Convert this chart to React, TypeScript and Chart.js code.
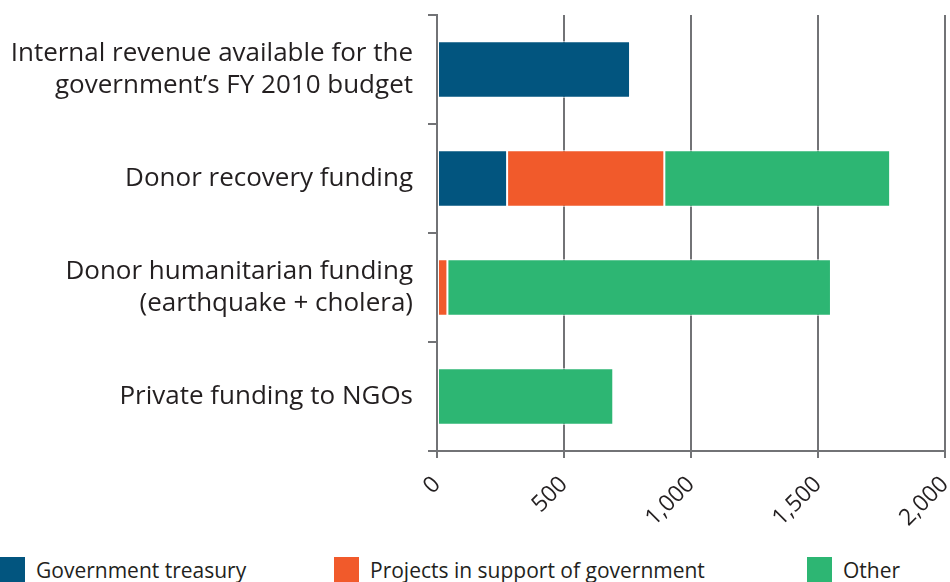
import React, { useEffect, useRef } from "react";
import { Chart, registerables } from "chart.js";

Chart.register(...registerables);

const categories: (string | string[])[] = [
  ["Internal revenue available for the", "government\u2019s FY 2010 budget"],
  "Donor recovery funding",
  ["Donor humanitarian funding", "(earthquake + cholera)"],
  "Private funding to NGOs",
];

const seriesNames = ["Government treasury", "Projects in support of government", "Other"];
const seriesColors = ["#02557f", "#f15a2b", "#2db673"];

const governmentTreasury = [760, 276, 0, 0];
const projectsInSupport = [0, 619, 41, 0];
const otherFunding = [0, 889, 1510, 694];

const xTicks = [0, 500, 1000, 1500, 2000];

const FONT = "'Open Sans', 'Noto Sans', sans-serif";
const GRAY = "#727376";
const TEXT = "#231f20";

export default function App() {
  const ref = useRef<HTMLCanvasElement | null>(null);

  useEffect(() => {
    if (!ref.current) return;
    const series = [governmentTreasury, projectsInSupport, otherFunding];
    const chart = new Chart(ref.current, {
      type: "bar",
      data: {
        labels: categories,
        datasets: series.map((d, i) => ({
          label: seriesNames[i],
          data: d,
          backgroundColor: seriesColors[i],
          borderColor: "#ffffff",
          borderWidth: 1,
          borderSkipped: false,
          barPercentage: 0.52,
          categoryPercentage: 1,
        })),
      },
      options: {
        indexAxis: "y",
        animation: false,
        responsive: false,
        maintainAspectRatio: false,
        layout: { padding: { top: 15, right: 5, left: 0, bottom: 0 } },
        plugins: {
          legend: { display: false },
          tooltip: { enabled: false },
        },
        scales: {
          x: {
            stacked: true,
            min: xTicks[0],
            max: xTicks[xTicks.length - 1],
            afterBuildTicks: (scale: any) => {
              scale.ticks = xTicks.map((v) => ({ value: v }));
            },
            afterFit: (scale: any) => {
              scale.height = 89;
              scale.paddingRight = 0;
              scale.paddingLeft = 0;
            },
            grid: {
              color: GRAY,
              lineWidth: 2,
              tickLength: 7,
              drawTicks: true,
            },
            border: { display: true, color: GRAY, width: 2 },
            ticks: {
              minRotation: 45,
              maxRotation: 45,
              color: TEXT,
              padding: 13,
              font: { family: FONT, size: 23 },
              callback: (v: any) => Number(v).toLocaleString("en-US"),
            },
          },
          y: {
            stacked: true,
            afterFit: (scale: any) => {
              scale.width = 437;
              scale.paddingTop = 0;
              scale.paddingBottom = 0;
            },
            grid: {
              offset: true,
              drawOnChartArea: false,
              color: GRAY,
              lineWidth: 2,
              tickLength: 9,
            },
            border: { display: true, color: GRAY, width: 2 },
            ticks: {
              color: TEXT,
              padding: 15,
              font: { family: FONT, size: 26, lineHeight: 1.2 },
            },
          },
        },
      },
    });
    return () => chart.destroy();
  }, []);

  const legendX = [0, 334, 807];

  return (
    <div
      style={{
        position: "fixed",
        left: 0,
        top: 0,
        width: 950,
        height: 582,
        background: "#ffffff",
        overflow: "hidden",
      }}
    >
      <canvas ref={ref} width={950} height={540} style={{ display: "block" }} />
      {seriesNames.map((name, i) => (
        <div
          key={name}
          style={{
            position: "absolute",
            left: legendX[i],
            top: 557,
            display: "flex",
            alignItems: "flex-start",
            fontFamily: FONT,
            fontSize: 21,
            color: TEXT,
            lineHeight: "26px",
            whiteSpace: "nowrap",
          }}
        >
          <span
            style={{
              display: "inline-block",
              width: 25,
              height: 26,
              background: seriesColors[i],
              marginRight: 11,
            }}
          />
          <span>{name}</span>
        </div>
      ))}
    </div>
  );
}
